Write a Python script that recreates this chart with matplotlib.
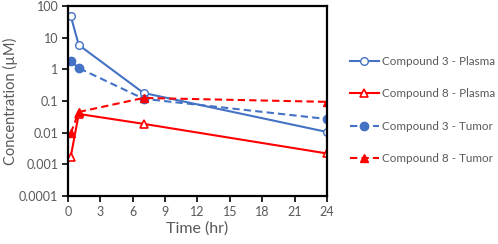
import matplotlib
matplotlib.use('Agg')
import matplotlib.pyplot as plt
from matplotlib.ticker import FixedLocator, FixedFormatter, NullLocator

plt.rcParams['font.family'] = ['Lato', 'DejaVu Sans']

# data
time_hr = [0.25, 1, 7, 24]
c3_plasma = [50, 5.9, 0.18, 0.0105]
c8_plasma = [0.0017, 0.039, 0.019, 0.0022]
c3_tumor = [1.85, 1.1, 0.118, 0.027]
c8_tumor = [0.0095, 0.045, 0.125, 0.094]

x_ticks = [0, 3, 6, 9, 12, 15, 18, 21, 24]
y_ticks = [0.0001, 0.001, 0.01, 0.1, 1, 10, 100]
y_labels = ['0.0001', '0.001', '0.01', '0.1', '1', '10', '100']

blue = '#4472C4'
red = '#FF0000'
grey = '#595959'

fig = plt.figure(figsize=(4.98, 2.44), dpi=100)
ax = fig.add_axes([0.1365, 0.197, 0.52, 0.778])

ax.plot(time_hr, c3_plasma, color=blue, lw=1.5, marker='o', ms=5.5,
        mfc='white', mec=blue, mew=1.0, label='Compound 3 - Plasma')
ax.plot(time_hr, c8_plasma, color=red, lw=1.5, marker='^', ms=6,
        mfc='white', mec=red, mew=1.2, label='Compound 8 - Plasma')
ax.plot(time_hr, c3_tumor, color=blue, lw=1.5, ls=(0, (3.5, 2)), marker='o', ms=6,
        mfc=blue, mec=blue, label='Compound 3 - Tumor')
ax.plot(time_hr, c8_tumor, color=red, lw=1.5, ls=(0, (3.5, 2)), marker='^', ms=6,
        mfc=red, mec=red, label='Compound 8 - Tumor')

ax.set_yscale('log')
ax.set_ylim(0.0001, 100)
ax.set_xlim(0, 24)
ax.yaxis.set_major_locator(FixedLocator(y_ticks))
ax.yaxis.set_major_formatter(FixedFormatter(y_labels))
ax.yaxis.set_minor_locator(NullLocator())
ax.set_xticks(x_ticks)

for s in ax.spines.values():
    s.set_color('black')
    s.set_linewidth(1.6)
ax.tick_params(axis='both', direction='out', length=4, width=1.2, color='black',
               labelcolor=grey, labelsize=9, pad=3)

ax.set_xlabel('Time (hr)', fontsize=11.5, color=grey, labelpad=3)
ax.set_ylabel('Concentration (µM)', fontsize=10.5, color=grey, labelpad=1)

leg = ax.legend(loc='upper left', bbox_to_anchor=(0.703, 0.772),
                bbox_transform=fig.transFigure, frameon=False, fontsize=8.4,
                handlelength=2.45, handletextpad=0.3, labelspacing=1.85,
                borderaxespad=0, borderpad=0)
for t in leg.get_texts():
    t.set_color(grey)

fig.savefig('out.png', dpi=100)
